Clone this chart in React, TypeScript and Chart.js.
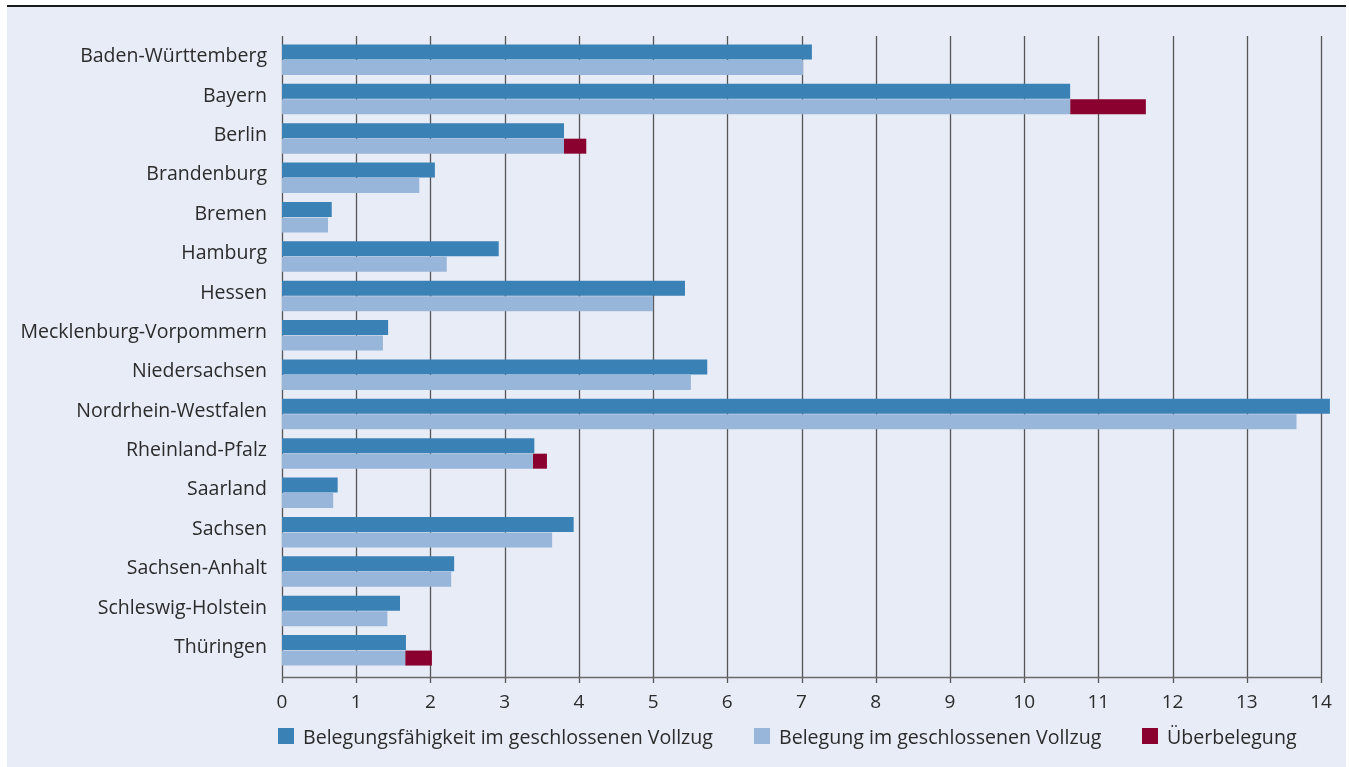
import React, { useEffect, useRef } from 'react';
import { Chart, registerables } from 'chart.js';

Chart.register(...registerables);

const STATES = [
  'Baden-Württemberg',
  'Bayern',
  'Berlin',
  'Brandenburg',
  'Bremen',
  'Hamburg',
  'Hessen',
  'Mecklenburg-Vorpommern',
  'Niedersachsen',
  'Nordrhein-Westfalen',
  'Rheinland-Pfalz',
  'Saarland',
  'Sachsen',
  'Sachsen-Anhalt',
  'Schleswig-Holstein',
  'Thüringen',
];

const CAPACITY = [7.14, 10.62, 3.8, 2.06, 0.67, 2.92, 5.43, 1.43, 5.73, 14.12, 3.4, 0.75, 3.93, 2.32, 1.59, 1.67];
const OCCUPANCY = [7.02, 10.62, 3.8, 1.85, 0.62, 2.22, 5.0, 1.36, 5.51, 13.67, 3.38, 0.69, 3.64, 2.28, 1.42, 1.66];
const OVERCROWDING = [null, 1.02, 0.3, null, null, null, null, null, null, null, 0.19, null, null, null, null, 0.36];

const X_TICKS = [0, 1, 2, 3, 4, 5, 6, 7, 8, 9, 10, 11, 12, 13, 14];

const LEGEND_LABELS = [
  'Belegungsfähigkeit im geschlossenen Vollzug',
  'Belegung im geschlossenen Vollzug',
  'Überbelegung',
];

const COLORS = ['#3a81b6', '#98b6d9', '#8a002f'];
const FONT = '"Open Sans", Roboto, sans-serif';
const TEXT = '#2b2b2b';

const gridPlugin = {
  id: 'customGrid',
  beforeDatasetsDraw(chart: any) {
    const { ctx, chartArea } = chart;
    const xs = chart.scales.x;
    ctx.save();
    ctx.lineWidth = 1.3;
    ctx.strokeStyle = '#555';
    for (const v of X_TICKS) {
      const px = Math.round(xs.getPixelForValue(v)) + 0.5;
      ctx.beginPath();
      ctx.moveTo(px, chartArea.top - 4);
      ctx.lineTo(px, chartArea.bottom + 13);
      ctx.stroke();
    }
    ctx.strokeStyle = '#6a6a6a';
    ctx.beginPath();
    ctx.moveTo(xs.getPixelForValue(0), chartArea.bottom + 7.5);
    ctx.lineTo(xs.getPixelForValue(14), chartArea.bottom + 7.5);
    ctx.stroke();
    ctx.restore();
  },
};

export default function App() {
  const ref = useRef<HTMLCanvasElement>(null);

  useEffect(() => {
    document.body.style.margin = '0';
    const canvas = ref.current;
    if (!canvas) return;
    const chart = new Chart(canvas, {
      type: 'bar',
      data: {
        labels: STATES,
        datasets: [
          {
            label: LEGEND_LABELS[0],
            data: CAPACITY,
            backgroundColor: COLORS[0],
            stack: 'cap',
            clip: false,
          } as any,
          {
            label: LEGEND_LABELS[1],
            data: OCCUPANCY,
            backgroundColor: COLORS[1],
            stack: 'occ',
            clip: false,
          },
          {
            label: LEGEND_LABELS[2],
            data: OVERCROWDING,
            backgroundColor: COLORS[2],
            stack: 'occ',
            clip: false,
          },
        ],
      },
      options: {
        indexAxis: 'y',
        animation: false,
        responsive: false,
        devicePixelRatio: 1,
        categoryPercentage: 0.787,
        barPercentage: 0.968,
        layout: { padding: { top: 40, right: 28, bottom: 47, left: 0 } },
        plugins: {
          legend: { display: false },
          tooltip: { enabled: false },
        },
        scales: {
          x: {
            stacked: true,
            min: 0,
            max: 14,
            grid: { display: false, drawTicks: false },
            border: { display: false },
            ticks: {
              stepSize: 1,
              padding: 21,
              color: TEXT,
              font: { family: FONT, size: 19 },
            },
            afterFit: (scale: any) => {
              scale.height = 50;
              scale.paddingRight = 0;
              scale.paddingLeft = 0;
            },
          },
          y: {
            stacked: true,
            grid: { display: false, drawTicks: false },
            border: { display: false },
            ticks: {
              padding: 15,
              labelOffset: -3,
              color: TEXT,
              font: { family: FONT, size: 19.5 },
            },
            afterFit: (scale: any) => {
              scale.width = 282;
            },
          },
        },
      } as any,
      plugins: [gridPlugin],
    });
    return () => chart.destroy();
  }, []);

  const legendPos = [278, 754, 1142];

  return (
    <div style={{ position: 'relative', width: 1349, height: 767, overflow: 'hidden', background: '#fff' }}>
      <div
        style={{
          position: 'absolute',
          left: 7,
          top: 5,
          width: 1339,
          height: 762,
          background: '#e8ecf7',
          borderTop: '2px solid #1a1a1a',
          boxSizing: 'border-box',
        }}
      />
      <canvas ref={ref} width={1349} height={767} style={{ position: 'absolute', left: 0, top: 0 }} />
      {LEGEND_LABELS.map((l, i) => (
        <div
          key={l}
          style={{
            position: 'absolute',
            left: legendPos[i],
            top: 724,
            height: 24,
            display: 'flex',
            alignItems: 'center',
            fontFamily: FONT,
            fontSize: 19.6,
            color: TEXT,
            whiteSpace: 'nowrap',
          }}
        >
          <span style={{ display: 'inline-block', width: 16, height: 16, background: COLORS[i], marginRight: 9 }} />
          {l}
        </div>
      ))}
    </div>
  );
}
